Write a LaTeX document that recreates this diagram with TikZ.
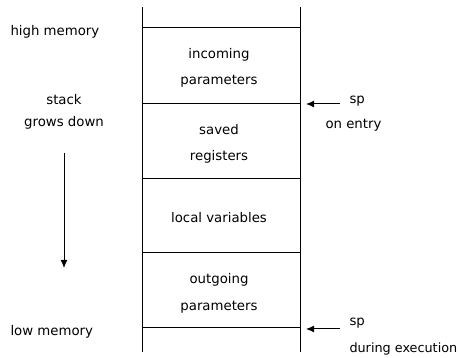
\documentclass[tikz,border=0pt]{standalone}
\usepackage{fontspec}
\setmainfont{DejaVu Sans}
\usetikzlibrary{arrows.meta}
\begin{document}
\begin{tikzpicture}[x=1pt,y=-1pt,
  every node/.style={font=\fontsize{13.3}{16}\selectfont, inner sep=0pt},
  cell/.style={draw, line width=1pt, outer sep=0pt, minimum width=158pt, anchor=north west, align=center},
  lbl/.style={anchor=west},
  ptr/.style={line width=1pt, -{Latex[length=8pt,width=7pt]}},
  line width=1pt]
\useasboundingbox (0,0) rectangle (461,358);
% stack cells
\node[cell, minimum height=76pt] (inc) at (142,28) {};
\node[cell, minimum height=75pt] (sav) at (142,104) {};
\node[cell, minimum height=74pt] (loc) at (142,179) {};
\node[cell, minimum height=75pt] (out) at (142,253) {};
\coordinate (tl) at (142,7);
\coordinate (tr) at (300,7);
\coordinate (bl) at (142,352);
\coordinate (br) at (300,352);
\draw (inc.north west) -- (tl);
\draw (inc.north east) -- (tr);
\draw (out.south west) -- (bl);
\draw (out.south east) -- (br);
% cell texts
\node (t1) at (219,55) {incoming};
\node (t2) at (219,81) {parameters};
\node (t3) at (219,130) {saved};
\node (t4) at (219,157) {registers};
\node (t5) at (219,218) {local variables};
\node (t6) at (219,280) {outgoing};
\node (t7) at (219,307) {parameters};
% left labels
\node[lbl] (hm) at (10,32) {high memory};
\node (st) at (64,100) {stack};
\node (gd) at (64,123) {grows down};
\node[lbl] (lm) at (10,332) {low memory};
\coordinate (a1) at (64,153);
\coordinate (a2) at (64,268);
\draw[ptr] (a1) -- (a2);
% right pointers
\coordinate (p1s) at (340,104);
\coordinate (p1e) at (306,104);
\draw[ptr] (p1s) -- (p1e);
\node[lbl] (sp1) at (349,101) {sp};
\node[lbl] (oe) at (325,125) {on entry};
\coordinate (p2s) at (340,329);
\coordinate (p2e) at (306,329);
\draw[ptr] (p2s) -- (p2e);
\node[lbl] (sp2) at (349,323) {sp};
\node[lbl, font=\fontsize{12.8}{16}\selectfont] (de) at (349,349) {during execution};
\end{tikzpicture}
\end{document}
